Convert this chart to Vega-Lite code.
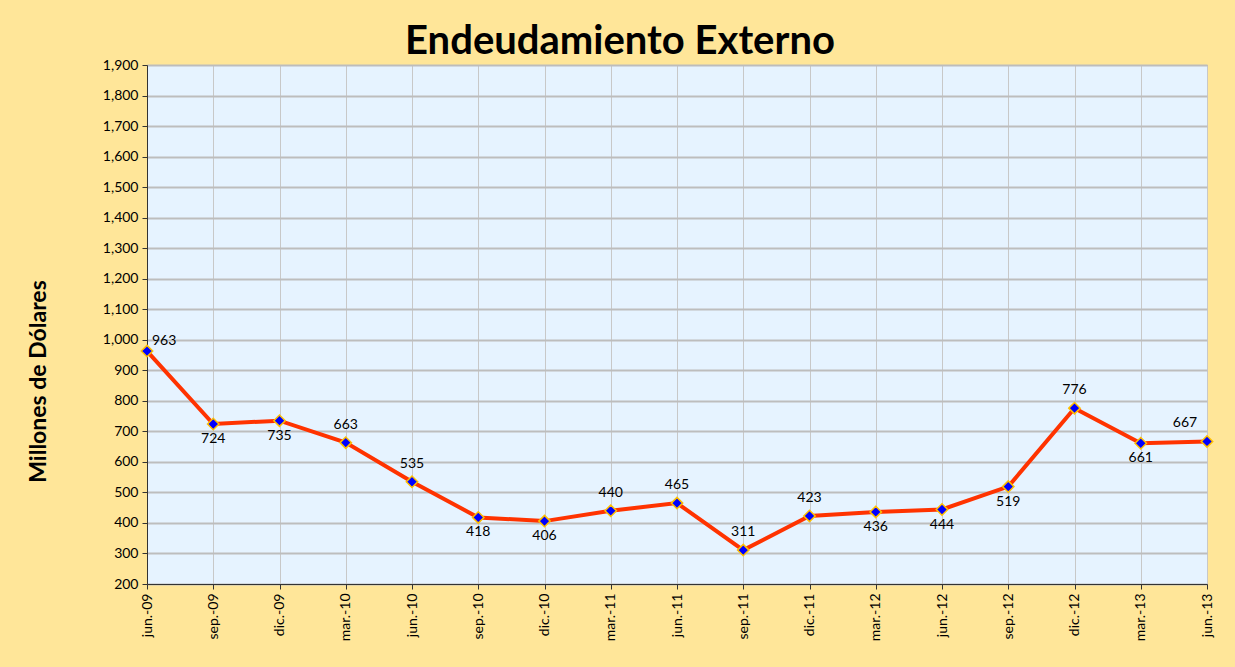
{
  "$schema": "https://vega.github.io/schema/vega-lite/v6.json",
  "width": 1060,
  "height": 519,
  "autosize": {"type": "none"},
  "padding": {"left": 147, "top": 65, "right": 28, "bottom": 83},
  "background": "#FFE699",
  "title": {
    "text": "Endeudamiento Externo",
    "font": "Lato",
    "fontSize": 40,
    "fontWeight": "bold",
    "color": "#000000",
    "anchor": "middle",
    "dx": -57,
    "offset": -4
  },
  "config": {
    "view": {"fill": "#E6F3FF", "stroke": "#BBA870", "strokeWidth": 1},
    "axis": {
      "labelFont": "Lato",
      "labelFontSize": 14,
      "labelColor": "#000000",
      "titleFont": "Lato",
      "domainColor": "#333333",
      "tickColor": "#333333",
      "tickSize": 5
    }
  },
  "data": {
    "values": [
      {"periodo": "jun.-09", "valor": 963, "pos": "right"},
      {"periodo": "sep.-09", "valor": 724, "pos": "below"},
      {"periodo": "dic.-09", "valor": 735, "pos": "below"},
      {"periodo": "mar.-10", "valor": 663, "pos": "above"},
      {"periodo": "jun.-10", "valor": 535, "pos": "above"},
      {"periodo": "sep.-10", "valor": 418, "pos": "below"},
      {"periodo": "dic.-10", "valor": 406, "pos": "below"},
      {"periodo": "mar.-11", "valor": 440, "pos": "above"},
      {"periodo": "jun.-11", "valor": 465, "pos": "above"},
      {"periodo": "sep.-11", "valor": 311, "pos": "above"},
      {"periodo": "dic.-11", "valor": 423, "pos": "above"},
      {"periodo": "mar.-12", "valor": 436, "pos": "below"},
      {"periodo": "jun.-12", "valor": 444, "pos": "below"},
      {"periodo": "sep.-12", "valor": 519, "pos": "below"},
      {"periodo": "dic.-12", "valor": 776, "pos": "above"},
      {"periodo": "mar.-13", "valor": 661, "pos": "below"},
      {"periodo": "jun.-13", "valor": 667, "pos": "left"}
    ]
  },
  "encoding": {
    "x": {
      "field": "periodo",
      "type": "ordinal",
      "sort": null,
      "scale": {"type": "point", "padding": 0},
      "axis": {
        "title": null,
        "labelAngle": 270,
        "labelAlign": "right",
        "labelBaseline": "middle",
        "labelPadding": 4,
        "grid": true,
        "gridColor": "#C8C8C8",
        "gridWidth": 1
      }
    },
    "y": {
      "field": "valor",
      "type": "quantitative",
      "scale": {"domain": [200, 1900], "nice": false, "zero": false},
      "axis": {
        "title": "Millones de Dólares",
        "titleFontSize": 23,
        "titleFontWeight": "bold",
        "titleColor": "#000000",
        "titleY": 316,
        "titlePadding": 52,
        "format": ",d",
        "values": [200, 300, 400, 500, 600, 700, 800, 900, 1000, 1100, 1200, 1300, 1400, 1500, 1600, 1700, 1800, 1900],
        "grid": true,
        "gridColor": "#BDBDBD",
        "gridWidth": 2,
        "labelPadding": 4
      }
    }
  },
  "layer": [
    {
      "mark": {"type": "line", "color": "#FF3300", "strokeWidth": 4}
    },
    {
      "mark": {"type": "point", "shape": "diamond", "filled": true, "fill": "#0000FF", "stroke": "#FFC000", "strokeWidth": 1.5, "size": 130, "opacity": 1}
    },
    {
      "transform": [{"filter": "datum.pos === 'above'"}],
      "mark": {"type": "text", "font": "Lato", "fontSize": 14, "color": "#000000", "baseline": "middle", "dy": -18},
      "encoding": {"text": {"field": "valor", "type": "quantitative"}}
    },
    {
      "transform": [{"filter": "datum.pos === 'below'"}],
      "mark": {"type": "text", "font": "Lato", "fontSize": 14, "color": "#000000", "baseline": "middle", "dy": 15},
      "encoding": {"text": {"field": "valor", "type": "quantitative"}}
    },
    {
      "transform": [{"filter": "datum.pos === 'right'"}],
      "mark": {"type": "text", "font": "Lato", "fontSize": 14, "color": "#000000", "baseline": "middle", "align": "left", "dx": 5, "dy": -10},
      "encoding": {"text": {"field": "valor", "type": "quantitative"}}
    },
    {
      "transform": [{"filter": "datum.pos === 'left'"}],
      "mark": {"type": "text", "font": "Lato", "fontSize": 14, "color": "#000000", "baseline": "middle", "dx": -22, "dy": -18},
      "encoding": {"text": {"field": "valor", "type": "quantitative"}}
    }
  ]
}
